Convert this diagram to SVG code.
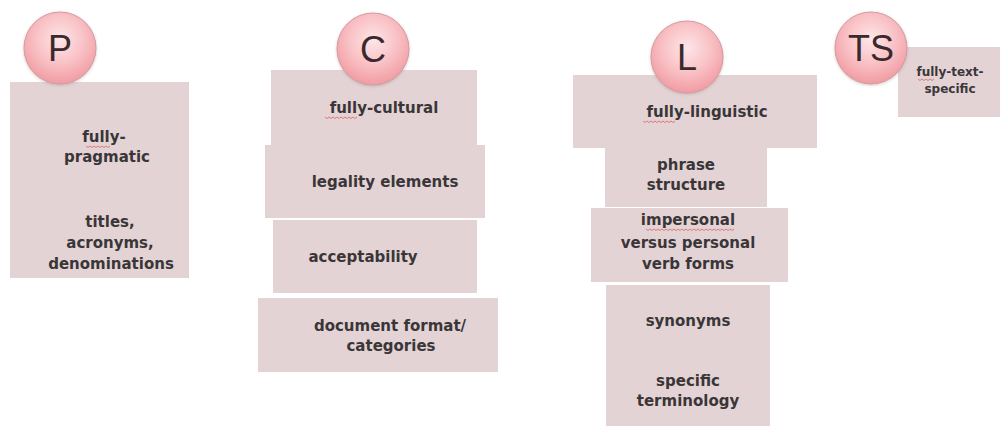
<svg xmlns="http://www.w3.org/2000/svg" width="1000" height="426" viewBox="0 0 1000 426">
  <style>
    .box { fill: #e3d3d5; }
    .lbl { font-family: "DejaVu Sans", Verdana, sans-serif; font-weight: bold; font-size: 15px; fill: #3a3638; text-anchor: middle; }
    .lbl-s { font-family: "DejaVu Sans", Verdana, sans-serif; font-weight: bold; font-size: 12px; fill: #3a3638; text-anchor: middle; }
    .badge { fill: url(#badgeFill); stroke: #d49a9f; stroke-width: 1; filter: url(#soft); }
    .badge-t { font-family: "Liberation Sans", Arial, sans-serif; font-size: 36px; fill: #3a2a2d; text-anchor: middle; }
    .squig { fill: none; stroke: #e2585e; stroke-width: 1; opacity: 0.75; }
  </style>
  <defs>
    <radialGradient id="badgeFill" cx="50%" cy="38%" r="60%">
      <stop offset="0" stop-color="#fde6e8"/>
      <stop offset="0.55" stop-color="#f9c2c6"/>
      <stop offset="1" stop-color="#f19ea5"/>
    </radialGradient>
    <filter id="soft" x="-20%" y="-20%" width="140%" height="140%">
      <feDropShadow dx="0" dy="1" stdDeviation="1.5" flood-color="#8a6a6c" flood-opacity="0.35"/>
    </filter>
  </defs>

  <!-- P column -->
  <g id="p-fully-pragmatic">
    <rect class="box" x="10" y="82" width="179" height="118"/>
    <text class="lbl" x="104" y="142">fully-</text>
    <text class="lbl" x="107" y="162">pragmatic</text>
    <path class="squig" d="M86 146 l2 1.5 l2 -1.5 l2 1.5 l2 -1.5 l2 1.5 l2 -1.5 l2 1.5 l2 -1.5 l2 1.5 l2 -1.5 l2 1.5 l2 -1.5"/>
  </g>
  <g id="p-titles">
    <rect class="box" x="10" y="200" width="179" height="78"/>
    <text class="lbl" x="110" y="227">titles,</text>
    <text class="lbl" x="110" y="248">acronyms,</text>
    <text class="lbl" x="111" y="269">denominations</text>
  </g>
  <g id="badge-p">
    <circle class="badge" cx="60" cy="48" r="36"/>
    <text class="badge-t" x="60" y="61">P</text>
  </g>

  <!-- C column -->
  <g id="c-fully-cultural">
    <rect class="box" x="271" y="70" width="206" height="75"/>
    <text class="lbl" x="384" y="113">fully-cultural</text>
    <path class="squig" d="M325 117 l2 1.5 l2 -1.5 l2 1.5 l2 -1.5 l2 1.5 l2 -1.5 l2 1.5 l2 -1.5 l2 1.5 l2 -1.5 l2 1.5 l2 -1.5 l2 1.5 l2 -1.5 l2 1.5 l2 -1.5"/>
  </g>
  <g id="c-legality">
    <rect class="box" x="265" y="145" width="220" height="73"/>
    <text class="lbl" x="385" y="187">legality elements</text>
  </g>
  <g id="c-acceptability">
    <rect class="box" x="273" y="220" width="204" height="73"/>
    <text class="lbl" x="363" y="262">acceptability</text>
  </g>
  <g id="c-document-format">
    <rect class="box" x="258" y="298" width="240" height="74"/>
    <text class="lbl" x="390" y="331">document format/</text>
    <text class="lbl" x="391" y="351">categories</text>
  </g>
  <g id="badge-c">
    <circle class="badge" cx="373" cy="49" r="36"/>
    <text class="badge-t" x="373" y="62">C</text>
  </g>

  <!-- L column -->
  <g id="l-fully-linguistic">
    <rect class="box" x="573" y="75" width="244" height="73"/>
    <text class="lbl" x="707" y="117">fully-linguistic</text>
    <path class="squig" d="M643 121 l2 1.5 l2 -1.5 l2 1.5 l2 -1.5 l2 1.5 l2 -1.5 l2 1.5 l2 -1.5 l2 1.5 l2 -1.5 l2 1.5 l2 -1.5 l2 1.5 l2 -1.5 l2 1.5 l2 -1.5"/>
  </g>
  <g id="l-phrase-structure">
    <rect class="box" x="605" y="148" width="162" height="59"/>
    <text class="lbl" x="686" y="170">phrase</text>
    <text class="lbl" x="686" y="190">structure</text>
  </g>
  <g id="l-verb-forms">
    <rect class="box" x="591" y="208" width="197" height="74"/>
    <text class="lbl" x="688" y="225">impersonal</text>
    <text class="lbl" x="688" y="248">versus personal</text>
    <text class="lbl" x="688" y="269">verb forms</text>
    <path class="squig" d="M646 229 l2 1.5 l2 -1.5 l2 1.5 l2 -1.5 l2 1.5 l2 -1.5 l2 1.5 l2 -1.5 l2 1.5 l2 -1.5 l2 1.5 l2 -1.5 l2 1.5 l2 -1.5 l2 1.5 l2 -1.5 l2 1.5 l2 -1.5 l2 1.5 l2 -1.5 l2 1.5 l2 -1.5 l2 1.5 l2 -1.5 l2 1.5 l2 -1.5 l2 1.5 l2 -1.5 l2 1.5 l2 -1.5 l2 1.5 l2 -1.5 l2 1.5 l2 -1.5 l2 1.5 l2 -1.5 l2 1.5 l2 -1.5 l2 1.5 l2 -1.5 l2 1.5 l2 -1.5 l2 1.5 l2 -1.5"/>
  </g>
  <g id="l-synonyms">
    <rect class="box" x="606" y="285" width="164" height="72"/>
    <text class="lbl" x="688" y="326">synonyms</text>
  </g>
  <g id="l-terminology">
    <rect class="box" x="606" y="357" width="164" height="69"/>
    <text class="lbl" x="688" y="386">specific</text>
    <text class="lbl" x="688" y="406">terminology</text>
  </g>
  <g id="badge-l">
    <circle class="badge" cx="687" cy="57" r="36"/>
    <text class="badge-t" x="687" y="70">L</text>
  </g>

  <!-- TS column -->
  <g id="ts-fully-text-specific">
    <rect class="box" x="898" y="47" width="102" height="70"/>
    <text class="lbl-s" x="950" y="76">fully-text-</text>
    <text class="lbl-s" x="950" y="93">specific</text>
    <path class="squig" d="M918 79 l2 1.5 l2 -1.5 l2 1.5 l2 -1.5 l2 1.5 l2 -1.5 l2 1.5 l2 -1.5"/>
  </g>
  <g id="badge-ts">
    <circle class="badge" cx="871" cy="48" r="36"/>
    <text class="badge-t" x="871" y="61">TS</text>
  </g>

  <!-- no connectors in this figure -->
  <g id="connectors"/>
</svg>
